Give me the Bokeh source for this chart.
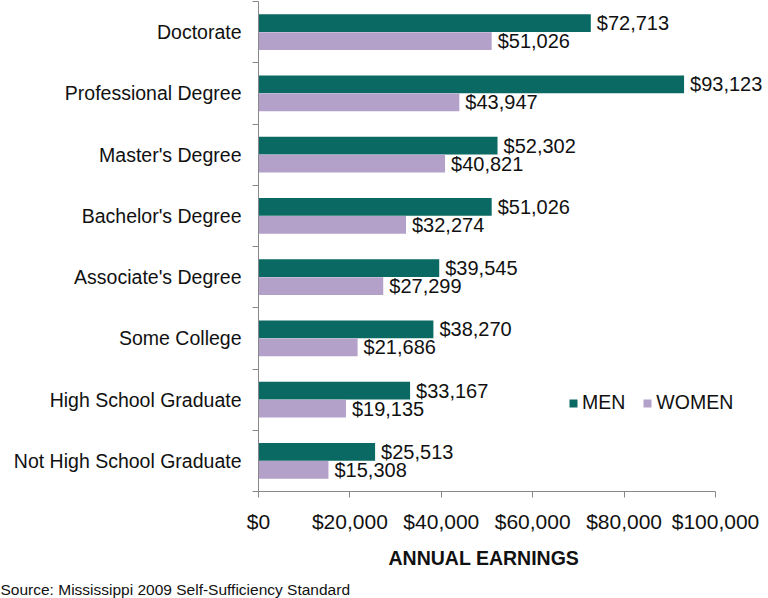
from bokeh.plotting import figure
from bokeh.models import (ColumnDataSource, Range1d, FixedTicker, Legend, LegendItem,
                          Title, NumeralTickFormatter)
from bokeh.embed import file_html
from bokeh.resources import INLINE
from bokeh.core.properties import value

categories = ["Doctorate", "Professional Degree", "Master's Degree", "Bachelor's Degree",
              "Associate's Degree", "Some College", "High School Graduate",
              "Not High School Graduate"]
men = [72713, 93123, 52302, 51026, 39545, 38270, 33167, 25513]
women = [51026, 43947, 40821, 32274, 27299, 21686, 19135, 15308]
x_ticks = [0, 20000, 40000, 60000, 80000, 100000]

MEN_COLOR = "#0a6962"
WOMEN_COLOR = "#b3a1c9"
FONT = "Liberation Sans"
TXT = "#111111"

n = len(categories)
ypos = [n - i - 0.5 for i in range(n)]
off = 0.148
hgt = 0.29

src = ColumnDataSource(dict(
    cat=categories,
    y_men=[y + off for y in ypos],
    y_women=[y - off for y in ypos],
    men=men, women=women,
    men_lbl=["${:,}".format(v) for v in men],
    women_lbl=["${:,}".format(v) for v in women],
))

# frame spans to the right edge so value labels and legend are not clipped;
# the x axis itself is bounded to 0..100,000
x_end = 100000 * (768 - 258) / (715 - 258)

p = figure(width=768, height=598, output_backend="svg", toolbar_location=None,
           x_range=Range1d(0, x_end), y_range=Range1d(0, n),
           min_border_left=258, min_border_right=0, min_border_top=1,
           min_border_bottom=107)
p.outline_line_color = None
p.grid.grid_line_color = None
p.background_fill_color = "white"
p.border_fill_color = "white"

r_men = p.hbar(y="y_men", right="men", left=0, height=hgt, source=src,
               fill_color=MEN_COLOR, line_color=None)
r_women = p.hbar(y="y_women", right="women", left=0, height=hgt, source=src,
                 fill_color=WOMEN_COLOR, line_color=None)

p.text(x="men", y="y_men", text="men_lbl", source=src, x_offset=6,
       text_baseline="middle", text_align="left", text_font=value(FONT),
       text_font_size="20px", text_color=TXT)
p.text(x="women", y="y_women", text="women_lbl", source=src, x_offset=6,
       text_baseline="middle", text_align="left", text_font=value(FONT),
       text_font_size="20px", text_color=TXT)

# y axis: labels at category centres, small ticks at boundaries
p.yaxis.ticker = FixedTicker(ticks=ypos, minor_ticks=list(range(n + 1)))
p.yaxis.major_label_overrides = {y: c for y, c in zip(ypos, categories)}
p.yaxis.major_tick_line_color = None
p.yaxis.minor_tick_line_color = "#888888"
p.yaxis.minor_tick_out = 6
p.yaxis.minor_tick_in = 0
p.yaxis.axis_line_color = "#888888"
p.yaxis.major_label_text_font = FONT
p.yaxis.major_label_text_font_size = "19.5px"
p.yaxis.major_label_text_color = TXT
p.yaxis.major_label_standoff = 11

p.xaxis.ticker = FixedTicker(ticks=x_ticks)
p.xaxis.bounds = (0, 100000)
p.xaxis.formatter = NumeralTickFormatter(format="$0,0")
p.xaxis.minor_tick_line_color = None
p.xaxis.major_tick_line_color = "#888888"
p.xaxis.major_tick_out = 6
p.xaxis.major_tick_in = 0
p.xaxis.axis_line_color = "#888888"
p.xaxis.major_label_text_font = FONT
p.xaxis.major_label_text_font_size = "21px"
p.xaxis.major_label_text_color = TXT
p.xaxis.major_label_standoff = 12

legend = Legend(items=[LegendItem(label="MEN", renderers=[r_men]),
                       LegendItem(label="WOMEN", renderers=[r_women])],
                orientation="horizontal", location=(310, 77),
                glyph_width=10, glyph_height=10, label_standoff=4, spacing=17,
                padding=0, margin=0, border_line_color=None,
                background_fill_alpha=0,
                label_text_font=FONT, label_text_font_size="19.5px",
                label_text_color=TXT)
p.add_layout(legend)

# axis title, centred under the bounded axis (not the wider frame)
p.add_layout(Title(text="ANNUAL EARNINGS", align="left", offset=130,
                   text_font=FONT, text_font_size="19.5px",
                   text_font_style="bold", text_color=TXT, standoff=19), "below")
p.add_layout(Title(text="Source: Mississippi 2009 Self-Sufficiency Standard",
                   align="left", offset=-258, text_font=FONT,
                   text_font_size="15.5px", text_font_style="normal",
                   text_color=TXT, standoff=0), "below")

open("out.html", "w").write(file_html(p, INLINE))
